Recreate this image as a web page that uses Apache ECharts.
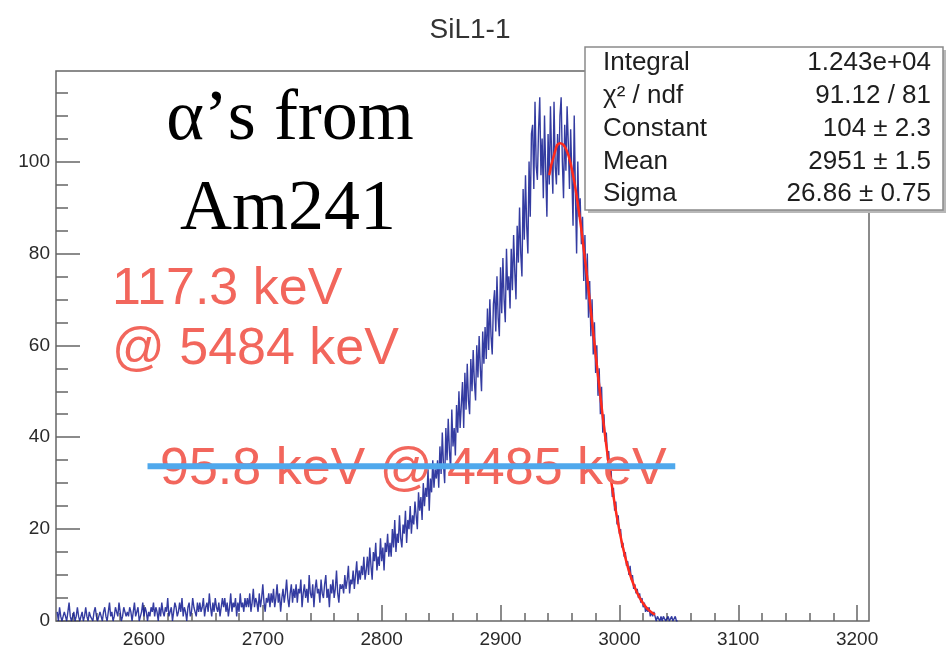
<!DOCTYPE html>
<html><head><meta charset="utf-8">
<script src="https://cdn.jsdelivr.net/npm/echarts@6/dist/echarts.min.js"></script>
<style>html,body{margin:0;padding:0;background:#fff}#c{width:947px;height:649px}</style>
</head><body><div id="c"></div>
<script>
// ---- data ----
const binStart = 2527;   // centre of first bin
const binWidth = 1;
const counts = [
  2,0,3,1,0,1,2,1,0,2,4,1,0,1,2,0,1,3,1,0,
  1,2,0,1,3,1,0,2,1,1,0,2,3,1,0,1,2,1,0,2,
  3,1,0,2,4,1,2,0,1,3,2,1,4,2,0,1,3,2,1,2,
  1,3,2,0,2,4,1,2,3,0,1,2,4,1,3,2,0,2,1,3,
  2,4,1,3,2,0,3,1,4,2,1,3,2,5,1,2,3,0,2,4,
  3,1,2,4,2,5,1,3,2,0,3,4,1,2,5,3,2,1,4,2,
  4,2,3,5,1,3,4,2,6,3,1,4,2,5,3,2,4,1,3,5,
  3,5,2,4,1,3,6,2,4,3,5,1,4,2,6,3,4,2,5,3,
  5,3,6,2,4,7,3,5,4,2,6,3,5,8,4,2,5,4,6,3,
  6,4,7,3,5,8,4,6,2,5,7,4,6,9,5,3,6,8,4,7,
  5,8,4,7,6,9,3,6,8,5,7,4,10,6,5,8,3,7,9,6,
  7,4,9,6,5,8,10,5,7,3,8,6,9,5,7,11,6,4,8,7,
  8,6,10,7,9,12,6,9,8,11,7,10,13,8,11,9,12,10,14,9,
  11,14,10,16,12,9,15,13,17,11,14,12,18,13,16,11,17,15,19,14,
  17,14,20,16,22,15,19,17,23,18,16,21,19,24,17,22,20,25,19,23,
  21,26,23,20,28,24,27,22,30,25,29,27,33,24,31,28,35,29,33,31,
  35,29,38,32,41,34,30,42,35,44,37,33,46,38,42,36,47,41,50,42,
  47,52,42,54,46,56,48,45,57,50,59,52,48,60,53,62,55,50,63,56,
  64,57,68,59,70,62,58,69,72,63,75,66,62,77,67,79,70,65,81,72,
  75,68,81,72,84,76,70,86,78,90,80,75,94,83,97,86,80,100,88,106,
  108,94,113,99,96,107,114,97,105,92,110,98,88,106,95,112,101,93,113,99,
  95,106,97,110,114,100,92,108,98,112,104,94,107,97,86,110,93,80,100,88,
  92,82,88,74,84,70,80,66,74,62,70,58,65,54,60,49,55,45,51,41,
  45,39,41,35,37,31,33,27,29,24,26,21,23,19,20,16,17,14,15,12,
  13,10,12,9,10,7,8,6,7,5,6,4,5,3,4,2,3,2,3,1,
  2,1,2,1,0,1,1,0,1,0,1,1,0,0,1,0,0,1,0,0,1,0,0
];
const fitX = [2941,2945,2950,2955,2960,2965,2970,2975,2980,2985,2990,2995,3000,3005,3010,3015,3020,3025,3030];
const fitY = [97.0,101.4,104.0,102.8,98.3,90.8,81.0,69.8,58.1,46.7,36.2,27.2,19.7,13.8,9.3,6.1,3.8,2.3,1.4];
const blueLineX = [2603, 3047];
const blueLineY = 33.7;
const xMajorTicks = [2600,2700,2800,2900,3000,3100,3200];
const xMinorTicks = [2540,2560,2580,2620,2640,2660,2680,2720,2740,2760,2780,2820,2840,2860,2880,2920,2940,2960,2980,3020,3040,3060,3080,3120,3140,3160,3180];
const yMajorTicks = [0,20,40,60,80,100];
const yMinorTicks = [5,10,15,25,30,35,45,50,55,65,70,75,85,90,95,105,110,115];
const xRange = [2526, 3210];
const yRange = [0, 119.7];
const titleText = 'SiL1-1';
const statsLabels = ['Integral', 'χ² / ndf', 'Constant', 'Mean', 'Sigma'];
const statsValues = ['1.243e+04', '91.12 / 81', '104 ± 2.3', '2951 ± 1.5', '26.86 ± 0.75'];

// ---- build ----
const histData = counts.map((v, i) => [binStart + i * binWidth, v]);
const fitData = fitX.map((x, i) => [x, fitY[i]]);
const blueData = blueLineX.map(x => [x, blueLineY]);

const chart = echarts.init(document.getElementById('c'), null, {renderer: 'canvas'});
const axisColor = '#666';
const labelFont = {fontFamily: 'Liberation Sans', fontSize: 19, color: '#2a2a2a'};
const plain = v => String(v);

const statsGraphics = [];
statsGraphics.push({type: 'rect', shape: {x: 588, y: 50, width: 358, height: 163}, style: {fill: '#b8b8b8'}, z: 100});
statsGraphics.push({type: 'rect', shape: {x: 585, y: 47, width: 358, height: 163}, style: {fill: '#fff', stroke: '#8a8a8a', lineWidth: 1.5}, z: 101});
const rowY = [63, 96, 129, 162, 194];
statsLabels.forEach((t, i) => {
  statsGraphics.push({type: 'text', x: 603, y: rowY[i], z: 102,
    style: {text: t, font: '26px "Liberation Sans"', fill: '#1e1e1e', textAlign: 'left', textVerticalAlign: 'middle'}});
  statsGraphics.push({type: 'text', x: 931, y: rowY[i], z: 102,
    style: {text: statsValues[i], font: '26px "Liberation Sans"', fill: '#1e1e1e', textAlign: 'right', textVerticalAlign: 'middle'}});
});

const option = {
  animation: false,
  backgroundColor: '#fff',
  title: {text: titleText, left: 465, top: 11, textAlign: 'center',
    textStyle: {fontFamily: 'Liberation Sans', fontSize: 28, fontWeight: 'normal', color: '#333'}},
  grid: {left: 56, top: 71, width: 813, height: 550, show: true, borderColor: axisColor, borderWidth: 1.5, backgroundColor: 'transparent'},
  xAxis: [
    {type: 'value', min: xRange[0], max: xRange[1], splitLine: {show: false},
     axisLine: {show: false},
     axisTick: {show: true, inside: true, length: 16, customValues: xMajorTicks, lineStyle: {color: axisColor, width: 1.5}},
     axisLabel: Object.assign({show: true, margin: 9, customValues: xMajorTicks, formatter: plain}, labelFont)},
    {type: 'value', min: xRange[0], max: xRange[1], position: 'bottom', splitLine: {show: false},
     axisLine: {show: false},
     axisTick: {show: true, inside: true, length: 8, customValues: xMinorTicks, lineStyle: {color: axisColor, width: 1.5}},
     axisLabel: {show: false}}
  ],
  yAxis: [
    {type: 'value', min: yRange[0], max: yRange[1], splitLine: {show: false},
     axisLine: {show: false},
     axisTick: {show: true, inside: true, length: 24, customValues: yMajorTicks, lineStyle: {color: axisColor, width: 1.5}},
     axisLabel: Object.assign({show: true, margin: 6, customValues: yMajorTicks, formatter: plain}, labelFont)},
    {type: 'value', min: yRange[0], max: yRange[1], position: 'left', splitLine: {show: false},
     axisLine: {show: false},
     axisTick: {show: true, inside: true, length: 12, customValues: yMinorTicks, lineStyle: {color: axisColor, width: 1.5}},
     axisLabel: {show: false}}
  ],
  series: [
    {type: 'line', data: histData, symbol: 'none', clip: true,
     lineStyle: {color: '#101a90', width: 1.4, opacity: 0.85}, z: 3},
    {type: 'line', data: fitData, smooth: true, symbol: 'none',
     lineStyle: {color: '#ff2a1c', width: 2.5}, z: 4},
    {type: 'line', data: blueData, symbol: 'none',
     lineStyle: {color: '#4fa8ec', width: 6}, z: 6}
  ],
  graphic: [
    {type: 'text', x: 290, y: 120, z: 50, style: {text: 'α’s from', font: '72px "Liberation Serif"', fill: '#000', textAlign: 'center', textVerticalAlign: 'middle'}},
    {type: 'text', x: 288, y: 210, z: 50, style: {text: 'Am241', font: '72px "Liberation Serif"', fill: '#000', textAlign: 'center', textVerticalAlign: 'middle'}},
    {type: 'text', x: 112, y: 290, z: 50, style: {text: '117.3 keV', font: '52px "Liberation Sans"', fill: '#f2665c', textAlign: 'left', textVerticalAlign: 'middle'}},
    {type: 'text', x: 112, y: 350, z: 50, style: {text: '@ 5484 keV', font: '52px "Liberation Sans"', fill: '#f2665c', textAlign: 'left', textVerticalAlign: 'middle'}},
    {type: 'text', x: 160, y: 470, z: 5, style: {text: '95.8 keV @ 4485 keV', font: '52px "Liberation Sans"', fill: '#f2665c', textAlign: 'left', textVerticalAlign: 'middle'}}
  ].concat(statsGraphics)
};
chart.setOption(option);
</script>
</body></html>
